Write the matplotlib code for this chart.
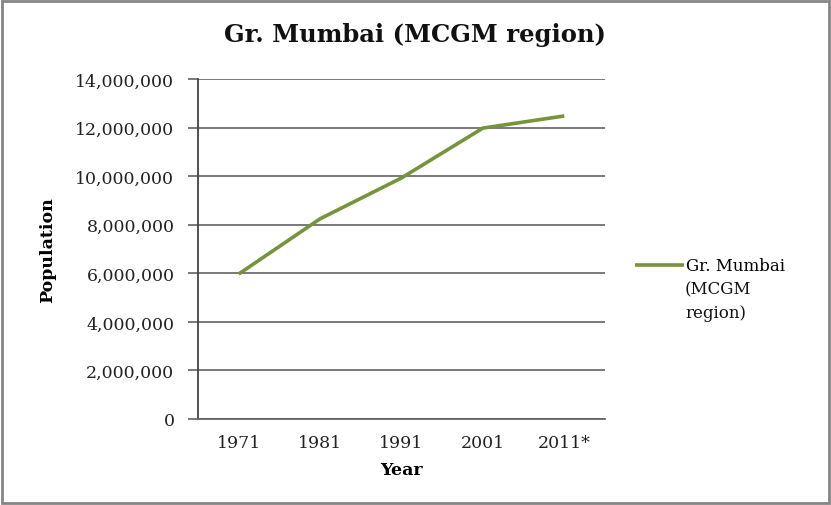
import matplotlib
matplotlib.use("Agg")
import matplotlib.pyplot as plt
from matplotlib.ticker import FuncFormatter
from matplotlib.patches import Rectangle

years = ["1971", "1981", "1991", "2001", "2011*"]
population = [5970575, 8243405, 9925891, 11978450, 12478447]
series_name = "Gr. Mumbai (MCGM region)"
legend_first = "Gr. Mumbai"
legend_rest = "(MCGM\nregion)"

W, H = 831, 506
fig = plt.figure(figsize=(W / 100, H / 100), dpi=100)
fig.patch.set_facecolor("white")
fig.patches.append(Rectangle((2 / W, 2 / H), 1 - 4 / W, 1 - 4 / H, transform=fig.transFigure,
                             fill=False, edgecolor="#858585", linewidth=2))

ax = fig.add_axes([198 / W, 1 - 420 / H, 407 / W, 340 / H])
x = list(range(len(years)))
line, = ax.plot(x, population, color="#77933C", linewidth=2.6, solid_capstyle="butt")

ax.set_xlim(-0.5, len(years) - 0.5)
ax.set_ylim(0, 14000000)
ax.set_yticks(range(0, 14000001, 2000000))
ax.yaxis.set_major_formatter(FuncFormatter(lambda v, p: f"{int(v):,}"))
ax.set_xticks(x)
ax.set_xticklabels(years)

serif = "DejaVu Serif"
for lab in ax.get_yticklabels() + ax.get_xticklabels():
    lab.set_fontfamily(serif)
    lab.set_fontsize(12.5)
    lab.set_color("#222222")

ax.grid(axis="y", color="#555555", linewidth=1.1)
ax.set_axisbelow(True)
for s in ["top", "right"]:
    ax.spines[s].set_visible(False)
ax.spines["left"].set_color("#444444")
ax.spines["left"].set_linewidth(1.3)
ax.spines["bottom"].set_color("#666666")
ax.spines["bottom"].set_linewidth(1.3)
ax.tick_params(axis="y", length=7, width=1.1, color="#555555", pad=10)
ax.tick_params(axis="x", length=0, pad=11)

ax.set_xlabel("Year", fontfamily=serif, fontweight="bold", fontsize=12.5, labelpad=7)
ax.set_ylabel("Population", fontfamily=serif, fontweight="bold", fontsize=12.5, labelpad=14)

fig.text(415 / W, 1 - 35 / H, series_name, ha="center", va="center",
         fontfamily=serif, fontweight="bold", fontsize=17.5, color="#111111")

leg = ax.legend([line], [legend_first], loc="center left", bbox_to_anchor=(627 / W, 1 - 267 / H),
                bbox_transform=fig.transFigure, frameon=False, handlelength=2.9,
                handletextpad=0.15, borderpad=0, prop={"family": serif, "size": 12})
fig.text(685 / W, 1 - 281 / H, legend_rest, ha="left", va="top", linespacing=1.5,
         fontfamily=serif, fontsize=12, color="#111111")

fig.savefig("out.png", dpi=100, facecolor="white")
